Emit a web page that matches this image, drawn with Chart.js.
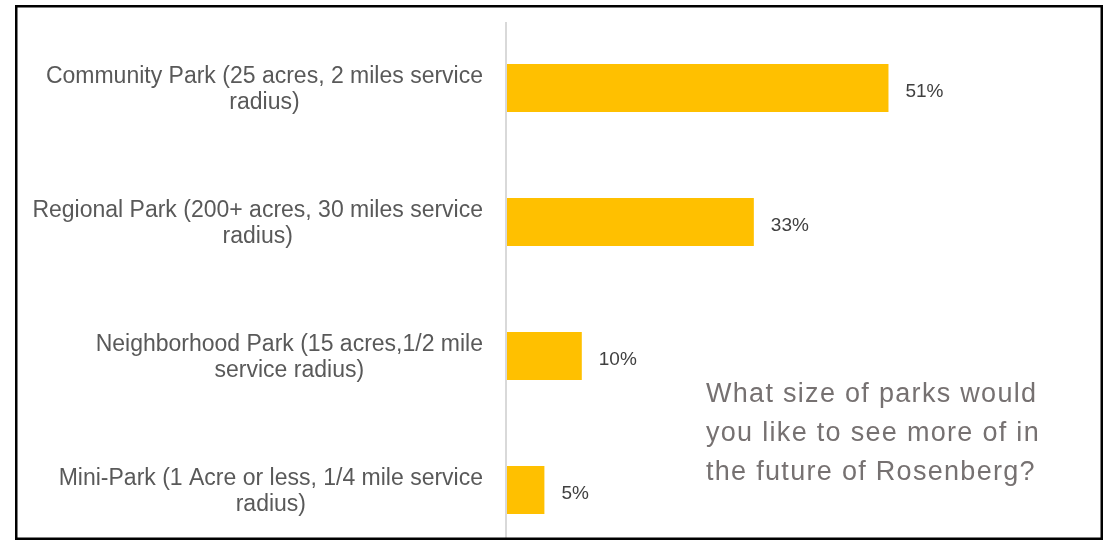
<!DOCTYPE html>
<html>
<head>
<meta charset="utf-8">
<title>Park sizes</title>
<script src="https://cdn.jsdelivr.net/npm/chart.js@4/dist/chart.umd.min.js"></script>
<style>
    html, body { margin: 0; padding: 0; background: #fff; overflow: hidden; }
    #wrap { position: relative; width: 1104px; height: 541px; overflow: hidden; }
    #chartParks { display: block; }
</style>
</head>
<body>
<div id="wrap"><canvas id="chartParks" width="1104" height="580"></canvas></div>
<script>
/**
 * Survey chart: which park sizes residents want more of
 */

// Categories (one entry per line of the label)
const categories = [
    ['Community Park (25 acres, 2 miles service', 'radius)'],
    ['Regional Park (200+ acres, 30 miles service', 'radius)'],
    ['Neighborhood Park (15 acres,1/2 mile', 'service radius)'],
    ['Mini-Park (1 Acre or less, 1/4 mile service', 'radius)']
];

// Share of answers, in percent
const shares = [51, 33, 10, 5];

// Question shown in the plot area
const questionLines = [
    'What size of parks would',
    'you like to see more of in',
    'the future of Rosenberg?'
];

const LABEL_FONT = '23px "Liberation Sans", Arial, sans-serif';
const VALUE_FONT = '19px "Liberation Sans", Arial, sans-serif';
const TITLE_FONT = '27px "Liberation Sans", Arial, sans-serif';

/**
 * Draws the axis line, category labels, value labels, question and frame
 */
const decorPlugin = {
    id: 'decor',
    afterDatasetsDraw(chart) {
        const ctx = chart.ctx;
        const xScale = chart.scales.x;
        const yScale = chart.scales.y;
        const area = chart.chartArea;
        const x0 = xScale.getPixelForValue(0);

        ctx.save();

        // Vertical axis line
        ctx.strokeStyle = '#d9d9d9';
        ctx.lineWidth = 2;
        ctx.beginPath();
        ctx.moveTo(x0 - 1, area.top + 1);
        ctx.lineTo(x0 - 1, 538);
        ctx.stroke();

        // Category labels: first line right aligned, second centred under it
        ctx.font = LABEL_FONT;
        ctx.fillStyle = '#595959';
        ctx.textBaseline = 'alphabetic';
        const labelRight = 483;
        categories.forEach((lines, i) => {
            const yc = yScale.getPixelForValue(i);
            const w = ctx.measureText(lines[0]).width;
            ctx.textAlign = 'right';
            ctx.fillText(lines[0], labelRight, yc - 5);
            ctx.textAlign = 'center';
            ctx.fillText(lines[1], labelRight - w / 2, yc + 21);
        });

        // Value labels at the end of each bar
        ctx.font = VALUE_FONT;
        ctx.fillStyle = '#404040';
        ctx.textAlign = 'left';
        const meta = chart.getDatasetMeta(0);
        meta.data.forEach((bar, i) => {
            ctx.fillText(shares[i] + '%', bar.x + 17, bar.y + 9);
        });

        // Question text (wider tracking, like the original)
        ctx.font = TITLE_FONT;
        ctx.fillStyle = '#767171';
        ctx.letterSpacing = '1.3px';
        questionLines.forEach((line, i) => {
            ctx.fillText(line, 706, 402 + i * 39);
        });
        ctx.letterSpacing = '0px';

        // Outer frame
        ctx.strokeStyle = '#000';
        ctx.lineWidth = 2.5;
        ctx.strokeRect(16.25, 6.25, 1085.5, 532.5);

        ctx.restore();
    }
};

new Chart(document.getElementById('chartParks'), {
    type: 'bar',
    data: {
        labels: categories.map(c => c.join(' ')),
        datasets: [{
            label: 'Share',
            data: shares,
            backgroundColor: '#ffc000',
            borderWidth: 0,
            barPercentage: 0.36,
            categoryPercentage: 1
        }]
    },
    options: {
        indexAxis: 'y',
        responsive: false,
        animation: false,
        layout: {
            padding: { left: 507, right: 36, top: 21, bottom: 23 }
        },
        plugins: {
            legend: { display: false },
            title: { display: false },
            tooltip: { enabled: false }
        },
        scales: {
            x: { display: false, min: 0, max: 75 },
            y: { display: false }
        }
    },
    plugins: [decorPlugin]
});
</script>
</body>
</html>
